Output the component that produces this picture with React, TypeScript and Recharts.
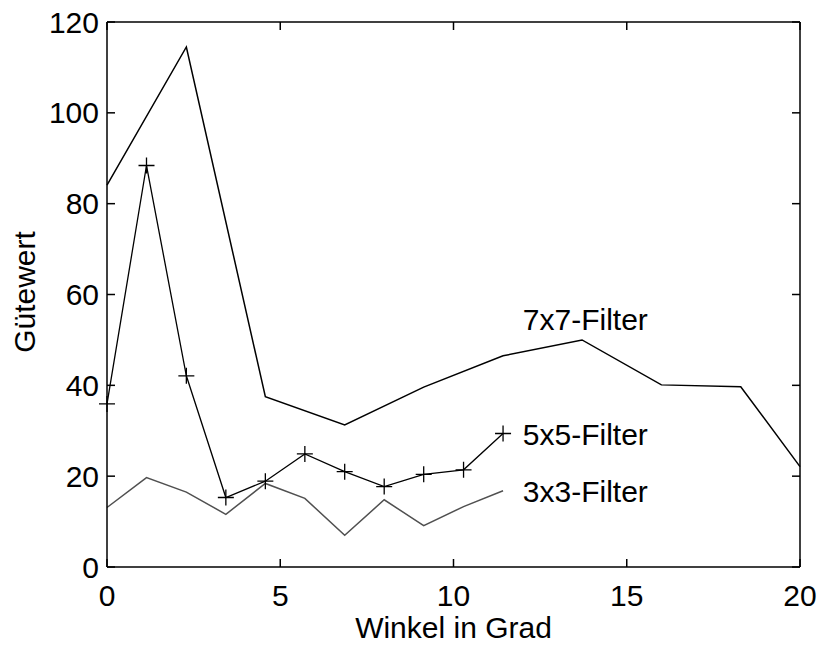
import React from "react";
import { LineChart, Line, XAxis, YAxis, ReferenceDot } from "recharts";

// Winkel (Grad) der Messpunkte
const winkelKlein = [0, 1.14, 2.29, 3.43, 4.57, 5.71, 6.86, 8.0, 9.14, 10.29, 11.43];
const winkelGross = [0, 2.29, 4.57, 6.86, 9.14, 11.43, 13.71, 16.0, 18.29, 20];

// Gütewerte je Filtergröße
const filter3x3 = [13.1, 19.7, 16.5, 11.6, 18.4, 15.1, 7.0, 14.8, 9.1, 13.3, 16.8];
const filter5x5 = [35.9, 88.4, 42.1, 15.3, 18.9, 24.9, 21.0, 17.7, 20.4, 21.4, 29.4];
const filter7x7 = [84.1, 114.5, 37.5, 31.3, 39.6, 46.5, 50.0, 40.1, 39.7, 22.1];

const xTicks = [0, 5, 10, 15, 20];
const yTicks = [0, 20, 40, 60, 80, 100, 120];

// Beschriftungen der Kurven: [Text, x, y]
const kurvenNamen: [string, number, number][] = [
  ["7x7-Filter", 12.0, 54.5],
  ["5x5-Filter", 12.0, 29.3],
  ["3x3-Filter", 12.0, 16.7],
];

const zip = (xs: number[], ys: number[]) => ys.map((y, i) => ({ x: xs[i], y }));

const data3 = zip(winkelKlein, filter3x3);
const data5 = zip(winkelKlein, filter5x5);
const data7 = zip(winkelGross, filter7x7);

const FONT = "'Liberation Sans', Arial, Helvetica, sans-serif";
const tickStyle = { fill: "#000", fontSize: 30, fontFamily: FONT };
const axisLine = { stroke: "#000", strokeWidth: 1.5 };
const tickLine = { stroke: "#000", strokeWidth: 1.5 };

// Kreuz-Marker für die 5x5-Kurve
const PlusDot = (props: any) => {
  const { cx, cy, index } = props;
  if (cx == null || cy == null) return <g key={index} />;
  const s = 8;
  return (
    <path
      key={index}
      d={`M${cx - s},${cy}H${cx + s}M${cx},${cy - s}V${cy + s}`}
      stroke="#000"
      strokeWidth={1.3}
      fill="none"
    />
  );
};

export default function App() {
  return (
    <div style={{ position: "absolute", left: 0, top: 0, background: "#fff" }}>
      <LineChart
        width={820}
        height={646}
        margin={{ top: 21, right: 19, bottom: 0, left: 0 }}
        style={{ fontFamily: FONT }}
      >
        <XAxis
          xAxisId="bottom"
          dataKey="x"
          type="number"
          domain={[0, 20]}
          ticks={xTicks}
          height={79}
          tickSize={-8}
          tickMargin={26}
          tick={tickStyle}
          axisLine={axisLine}
          tickLine={tickLine}
        />
        <XAxis
          xAxisId="top"
          dataKey="x"
          orientation="top"
          type="number"
          domain={[0, 20]}
          ticks={xTicks}
          height={1}
          tickSize={-8}
          tickFormatter={() => ""}
          axisLine={axisLine}
          tickLine={tickLine}
        />
        <YAxis
          yAxisId="left"
          type="number"
          domain={[0, 120]}
          ticks={yTicks}
          width={107}
          tickSize={-8}
          tickMargin={16}
          tick={tickStyle}
          axisLine={axisLine}
          tickLine={tickLine}
        />
        <YAxis
          yAxisId="right"
          orientation="right"
          type="number"
          domain={[0, 120]}
          ticks={yTicks}
          width={1}
          tickSize={-8}
          tickFormatter={() => ""}
          axisLine={axisLine}
          tickLine={tickLine}
        />

        {/* unsichtbare Kurve, damit oberer und rechter Rahmen gezeichnet werden */}
        <Line
          xAxisId="top"
          yAxisId="right"
          data={data7}
          dataKey="y"
          stroke="none"
          dot={false}
          activeDot={false}
          legendType="none"
          isAnimationActive={false}
        />

        <Line
          xAxisId="bottom"
          yAxisId="left"
          data={data7}
          dataKey="y"
          type="linear"
          stroke="#000"
          strokeWidth={1.5}
          dot={false}
          isAnimationActive={false}
        />
        <Line
          xAxisId="bottom"
          yAxisId="left"
          data={data3}
          dataKey="y"
          type="linear"
          stroke="#505050"
          strokeWidth={1.5}
          dot={false}
          isAnimationActive={false}
        />
        <Line
          xAxisId="bottom"
          yAxisId="left"
          data={data5}
          dataKey="y"
          type="linear"
          stroke="#000"
          strokeWidth={1.3}
          dot={PlusDot}
          isAnimationActive={false}
        />

        {kurvenNamen.map(([name, x, y]) => (
          <ReferenceDot
            key={name}
            xAxisId="bottom"
            yAxisId="left"
            x={x}
            y={y}
            r={0}
            fill="none"
            stroke="none"
            label={{ value: name, position: "right", offset: 0, fill: "#000", fontSize: 30, fontFamily: FONT }}
          />
        ))}

        <text
          x={453.5}
          y={638}
          textAnchor="middle"
          fontSize={30}
          fontFamily={FONT}
          fill="#000"
        >
          Winkel in Grad
        </text>
        <text
          x={35}
          y={292}
          textAnchor="middle"
          fontSize={30}
          fontFamily={FONT}
          fill="#000"
          transform="rotate(-90, 35, 292)"
        >
          Gütewert
        </text>
      </LineChart>
    </div>
  );
}
